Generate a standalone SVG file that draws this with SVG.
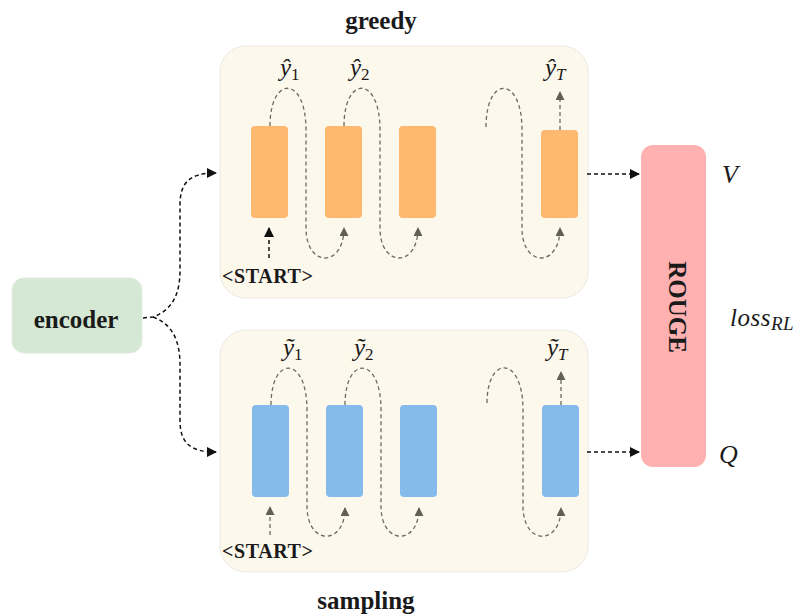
<svg xmlns="http://www.w3.org/2000/svg" width="802" height="616" viewBox="0 0 802 616">
<style>
.panel{fill:#fdf8ec;stroke:#ebe8e0;stroke-width:1}
.org{fill:#ffb870}
.blu{fill:#85bbea}
.lbl{font-family:"Liberation Serif",serif;font-weight:bold;fill:#1a1a1a}
.math{font-family:"Liberation Serif",serif;font-style:italic;fill:#1a1a1a}
.up{font-style:normal}
.loop{fill:none;stroke:#6b6b60;stroke-width:1.3;stroke-dasharray:4 3}
.conn{fill:none;stroke:#111;stroke-width:1.5;stroke-dasharray:4 3}
</style>
<defs>
<marker id="ag" viewBox="0 0 10 10" refX="9" refY="5" markerWidth="9" markerHeight="9" markerUnits="userSpaceOnUse" orient="auto"><path d="M0,0 L10,5 L0,10 z" fill="#5f5f55"/></marker>
<marker id="ab" viewBox="0 0 10 10" refX="9" refY="5" markerWidth="10" markerHeight="10" markerUnits="userSpaceOnUse" orient="auto"><path d="M0,0 L10,5 L0,10 z" fill="#111"/></marker>
</defs>

<text class="lbl" x="381" y="29" font-size="25" text-anchor="middle">greedy</text>
<text class="lbl" x="366" y="609" font-size="25" text-anchor="middle">sampling</text>

<g id="greedy-panel">
<rect class="panel" x="220" y="46" width="368" height="252" rx="26"/>
<rect class="org" x="251" y="126" width="37" height="92" rx="4"/>
<rect class="org" x="325" y="126" width="37" height="92" rx="4"/>
<rect class="org" x="399" y="126" width="37" height="92" rx="4"/>
<rect class="org" x="541" y="130" width="37" height="88" rx="4"/>
<text class="math" x="280" y="76" font-size="25">ŷ<tspan class="up" font-size="17" dy="4">1</tspan></text>
<text class="math" x="350" y="76" font-size="25">ŷ<tspan class="up" font-size="17" dy="4">2</tspan></text>
<text class="math" x="545" y="76" font-size="25">ŷ<tspan font-size="17" dy="4">T</tspan></text>
<text class="lbl" x="222" y="283" font-size="20" letter-spacing="0.6">&lt;START&gt;</text>
</g>

<g id="sampling-panel">
<rect class="panel" x="220" y="330" width="368" height="242" rx="26"/>
<rect class="blu" x="252" y="405" width="37" height="92" rx="4"/>
<rect class="blu" x="326" y="405" width="37" height="92" rx="4"/>
<rect class="blu" x="400" y="405" width="37" height="92" rx="4"/>
<rect class="blu" x="542" y="405" width="37" height="92" rx="4"/>
<text class="math" x="283" y="356" font-size="25">ỹ<tspan class="up" font-size="17" dy="4">1</tspan></text>
<text class="math" x="354" y="356" font-size="25">ỹ<tspan class="up" font-size="17" dy="4">2</tspan></text>
<text class="math" x="547" y="356" font-size="25">ỹ<tspan font-size="17" dy="4">T</tspan></text>
<text class="lbl" x="222" y="558" font-size="20" letter-spacing="0.6">&lt;START&gt;</text>
</g>

<g id="encoder">
<rect x="12" y="278" width="130" height="75" rx="12" fill="#d5e8d4" stroke="#e4ece2"/>
<text class="lbl" x="76" y="328" font-size="25" text-anchor="middle">encoder</text>
</g>

<g id="rouge">
<rect x="641" y="145" width="65" height="322" rx="12" fill="#ffb0b0"/>
<text class="lbl" font-size="25" text-anchor="middle" transform="translate(669,307) rotate(90)">ROUGE</text>
</g>

<g id="labels">
<text class="math" x="722" y="183" font-size="26">V</text>
<text class="math" x="719" y="463" font-size="26">Q</text>
<text class="math" x="730" y="326" font-size="25" letter-spacing="0.5">loss<tspan font-size="19" dy="4">RL</tspan></text>
</g>

<g id="connectors">
<!-- greedy loops -->
<path class="loop" d="M270,126 C270,75 306,75 306,130 L306,228 C306,268 344,268 344,228" marker-end="url(#ag)"/>
<path class="loop" d="M344,126 C344,75 380,75 380,130 L380,228 C380,268 418,268 418,228" marker-end="url(#ag)"/>
<path class="loop" d="M486,127 C486,75 522,75 522,130 L522,228 C522,268 560,268 560,228" marker-end="url(#ag)"/>
<path class="loop" d="M560,130 L560,92" stroke-dasharray="2 3" marker-end="url(#ag)"/>
<path class="conn" d="M269,258 L269,228" marker-end="url(#ab)"/>
<!-- sampling loops -->
<path class="loop" d="M271,405 C271,355 307,355 307,410 L307,506 C307,546 345,546 345,508" marker-end="url(#ag)"/>
<path class="loop" d="M345,405 C345,355 381,355 381,410 L381,506 C381,546 419,546 419,508" marker-end="url(#ag)"/>
<path class="loop" d="M487,403 C487,355 523,355 523,410 L523,506 C523,546 561,546 561,508" marker-end="url(#ag)"/>
<path class="loop" d="M561,405 L561,372" stroke-dasharray="2 3" marker-end="url(#ag)"/>
<path class="loop" d="M270,535 L270,507" marker-end="url(#ag)"/>
<!-- encoder to panels -->
<path class="conn" d="M143,318 L153,317 C172,310 180,295 180,270 L180,205 C180,182 190,173 216,173" marker-end="url(#ab)"/>
<path class="conn" d="M153,317 C172,324 180,340 180,365 L180,420 C180,443 190,452 216,452" marker-end="url(#ab)"/>
<!-- to ROUGE -->
<path class="conn" d="M587,174 L639,174" marker-end="url(#ab)"/>
<path class="conn" d="M587,452 L639,452" marker-end="url(#ab)"/>
</g>
</svg>
